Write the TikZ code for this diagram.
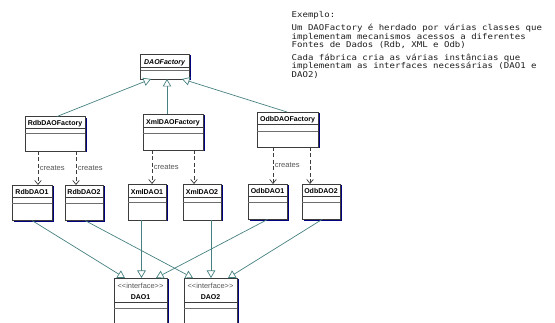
\documentclass[tikz,border=0pt]{standalone}
\usepackage{fontspec}
\setmainfont{Liberation Sans}
\newfontfamily\monofont{DejaVu Sans Mono}[FakeStretch=1.13]
\usetikzlibrary{arrows.meta,shadows}
\definecolor{lineteal}{RGB}{70,128,128}
\definecolor{shadowblue}{RGB}{0,0,128}
\definecolor{boxgray}{RGB}{60,60,60}
\definecolor{sepgray}{RGB}{110,110,110}
\definecolor{labelgray}{RGB}{85,85,85}
\definecolor{textdark}{RGB}{30,30,30}
\newcommand\umlbox[8]{%
  \node[cls, minimum width=#4pt, minimum height=#5pt,
        label={[ttl, yshift={-(#7-2.6)*1pt}]north:#6}] (#1) at (#2,#3) {};
  \draw[sepA] ([yshift=-#7pt]#1.north west) -- ([yshift=-#7pt]#1.north east);
  \draw[sepB] ([yshift=-#8pt]#1.north west) -- ([yshift=-#8pt]#1.north east);
}
\begin{document}
\begin{tikzpicture}[x=1pt,y=-1pt,
  cls/.style={draw=boxgray, line width=0.7pt, fill=white, rectangle, inner sep=0pt,
    outer sep=0pt, anchor=north west,
    general shadow={fill=shadowblue, shadow xshift=1.5pt, shadow yshift=-1.5pt}},
  ttl/.style={anchor=base, inner sep=0pt, font=\bfseries\fontsize{7}{8}\selectfont, text=black},
  sepA/.style={draw=boxgray, line width=0.7pt},
  sepB/.style={draw=sepgray, line width=0.6pt},
  gen/.style={draw=lineteal, line width=0.7pt,
    -{Triangle[open, length=7.5pt, width=8.5pt, fill=white]}},
  creates/.style={draw=boxgray, line width=0.7pt, dash pattern=on 4pt off 2.5pt,
    -{Straight Barb[length=4pt, width=6.5pt]}},
  clabel/.style={right, inner sep=1.5pt, font=\fontsize{7.6}{8}\selectfont, text=labelgray},
  note/.style={anchor=base west, inner sep=0pt, font=\monofont\fontsize{8}{8}\selectfont, text=textdark}]
\useasboundingbox (0,0) rectangle (555,323);

% factories
\umlbox{df}{140.5}{54}{48.5}{25}{\textit{DAOFactory}}{13}{16}
\umlbox{rf}{25}{116.5}{60}{34.5}{RdbDAOFactory}{11.5}{17}
\umlbox{xf}{143}{114}{60}{36}{XmlDAOFactory}{13}{19}
\umlbox{of}{257}{112}{61}{35}{OdbDAOFactory}{12.3}{19}

% DAO classes
\umlbox{rd1}{12}{185}{40}{35.5}{RdbDAO1}{12}{18}
\umlbox{rd2}{65}{185}{38}{35.5}{RdbDAO2}{12}{18}
\umlbox{xd1}{128}{184}{38}{36}{XmlDAO1}{13}{18.5}
\umlbox{xd2}{183}{184}{38}{36}{XmlDAO2}{13}{18.5}
\umlbox{od1}{248}{184}{39}{35.5}{OdbDAO1}{12.5}{18}
\umlbox{od2}{302}{184}{38}{35.5}{OdbDAO2}{12.5}{18}

% interfaces
\node[cls, minimum width=53pt, minimum height=50pt,
  label={[anchor=base, inner sep=0pt, yshift=-10.5pt, font=\fontsize{7.4}{8}\selectfont, text=labelgray]north:<\kern0pt<interface>\kern0pt>},
  label={[ttl, yshift=-21.5pt]north:DAO1}] (i1) at (114,278) {};
\draw[sepA] ([yshift=-24pt]i1.north west) -- ([yshift=-24pt]i1.north east);
\draw[sepB] ([yshift=-30pt]i1.north west) -- ([yshift=-30pt]i1.north east);
\node[cls, minimum width=53pt, minimum height=50pt,
  label={[anchor=base, inner sep=0pt, yshift=-10.5pt, font=\fontsize{7.4}{8}\selectfont, text=labelgray]north:<\kern0pt<interface>\kern0pt>},
  label={[ttl, yshift=-21.5pt]north:DAO2}] (i2) at (184,278) {};
\draw[sepA] ([yshift=-24pt]i2.north west) -- ([yshift=-24pt]i2.north east);
\draw[sepB] ([yshift=-30pt]i2.north west) -- ([yshift=-30pt]i2.north east);

% generalization to DAOFactory
\draw[gen] ([xshift=2pt]rf.north) -- ([xshift=-13.75pt]df.south);
\draw[gen] ([xshift=-6pt]xf.north) -- ([xshift=2.25pt]df.south);
\draw[gen] ([xshift=-0.5pt]of.north) -- ([xshift=17.25pt]df.south);

% creates
\draw[creates] ([xshift=-17pt]rf.south) -- node[clabel] {creates} ([xshift=6pt]rd1.north);
\draw[creates] ([xshift=21pt]rf.south) -- node[clabel] {creates} ([xshift=-8pt]rd2.north);
\draw[creates] ([xshift=-21pt]xf.south) -- node[clabel] {creates} ([xshift=5pt]xd1.north);
\draw[creates] ([xshift=21pt]xf.south) -- ([xshift=-8pt]xd2.north);
\draw[creates] ([xshift=-14.5pt]of.south) -- node[clabel] {creates} ([xshift=5.5pt]od1.north);
\draw[creates] ([xshift=22.5pt]of.south) -- ([xshift=-11pt]od2.north);

% realization to interfaces
\draw[gen] (rd1.south) -- ([xshift=-15.5pt]i1.north);
\draw[gen] ([xshift=1pt]rd2.south) -- ([xshift=-17.5pt]i2.north);
\draw[gen] ([xshift=-5.5pt]xd1.south) -- ([xshift=1pt]i1.north);
\draw[gen] ([xshift=9pt]xd2.south) -- ([xshift=0.5pt]i2.north);
\draw[gen] (od1.south) -- ([xshift=15.5pt]i1.north);
\draw[gen] ([xshift=1pt]od2.south) -- ([xshift=17.5pt]i2.north);

% note text
\node[note] (n0) at (291.5,17.5) {Exemplo:};
\node[note] (n1) at (291.5,30.8) {Um DAOFactory é herdado por várias classes que};
\node[note] (n2) at (291.5,39.3) {implementam mecanismos acessos a diferentes};
\node[note] (n3) at (291.5,47.8) {Fontes de Dados (Rdb, XML e Odb)};
\node[note] (n4) at (291.5,60.5) {Cada fábrica cria as várias instâncias que};
\node[note] (n5) at (291.5,69) {implementam as interfaces necessárias (DAO1 e};
\node[note] (n6) at (291.5,77.5) {DAO2)};
\end{tikzpicture}
\end{document}
